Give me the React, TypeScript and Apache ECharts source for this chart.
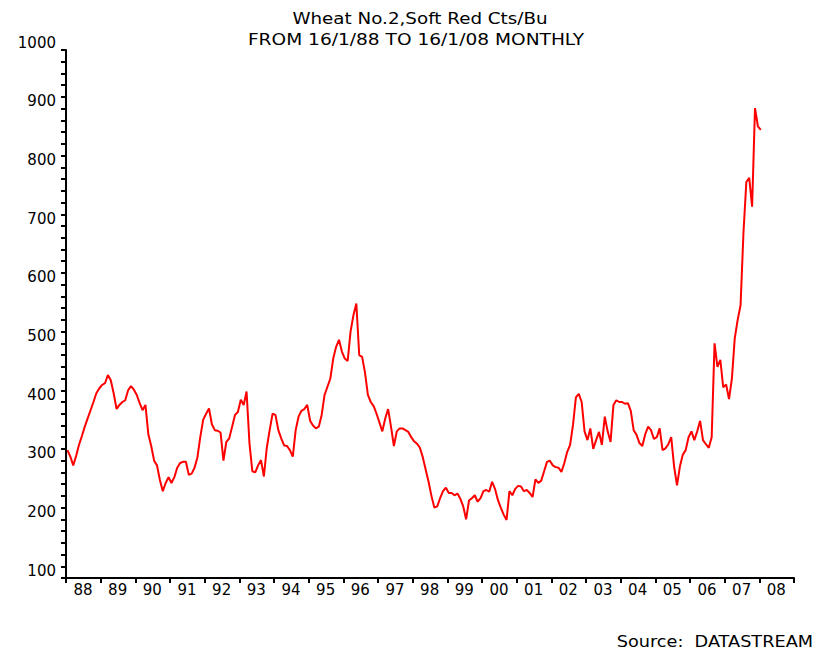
import React, { useEffect, useRef } from "react";
import * as echarts from "echarts";

const titleLine1 = "Wheat No.2,Soft Red Cts/Bu";
const titleLine2 = "FROM 16/1/88 TO 16/1/08 MONTHLY";
const sourceText = "Source:  DATASTREAM";

const startYear = 1988;
const yTicks = { min: 100, max: 1000, minor: 20, major: 100 };
const xYears = { min: 1988, max: 2009 };

// Monthly values (cents/bushel), January 1988 .. January 2008
const v1988 = [318, 307, 292, 308, 327, 342, 358, 372, 386, 400, 415, 423];
const v1989 = [429, 432, 446, 437, 415, 388, 395, 400, 403, 420, 427, 421];
const v1990 = [412, 398, 386, 395, 345, 325, 300, 292, 267, 248, 262, 272];
const v1991 = [262, 272, 288, 296, 298, 298, 276, 278, 288, 306, 341, 370];
const v1992 = [380, 389, 362, 352, 351, 348, 300, 332, 338, 358, 378, 383];
const v1993 = [404, 395, 418, 330, 282, 280, 292, 301, 273, 322, 352, 380];
const v1994 = [378, 352, 338, 326, 325, 318, 307, 352, 375, 385, 388, 395];
const v1995 = [368, 360, 355, 358, 378, 412, 426, 440, 474, 494, 506, 486];
const v1996 = [474, 470, 520, 548, 568, 480, 477, 450, 412, 400, 393, 380];
const v1997 = [365, 350, 372, 388, 358, 325, 350, 355, 355, 352, 349, 340];
const v1998 = [333, 329, 322, 306, 285, 264, 240, 220, 222, 236, 248, 254];
const v1999 = [245, 245, 241, 244, 235, 222, 200, 232, 236, 241, 230, 236];
const v2000 = [248, 250, 247, 264, 252, 233, 220, 208, 199, 248, 241, 252];
const v2001 = [257, 256, 248, 250, 245, 238, 268, 262, 266, 282, 298, 300];
const v2002 = [292, 289, 288, 281, 296, 315, 327, 361, 408, 414, 400, 350];
const v2003 = [335, 355, 320, 335, 349, 327, 375, 350, 332, 395, 403, 400];
const v2004 = [400, 397, 398, 385, 352, 344, 330, 325, 345, 358, 352, 337];
const v2005 = [340, 355, 318, 321, 328, 340, 290, 258, 290, 310, 318, 340];
const v2006 = [350, 335, 350, 368, 335, 328, 322, 340, 500, 460, 472, 425];
const v2007 = [430, 405, 440, 509, 540, 565, 688, 775, 782, 733, 901, 870];
const v2008 = [864];

const monthly = [
  ...v1988, ...v1989, ...v1990, ...v1991, ...v1992, ...v1993, ...v1994,
  ...v1995, ...v1996, ...v1997, ...v1998, ...v1999, ...v2000, ...v2001,
  ...v2002, ...v2003, ...v2004, ...v2005, ...v2006, ...v2007, ...v2008,
];

const FONT = "DejaVu Sans";

export default function App() {
  const ref = useRef<HTMLDivElement>(null);
  useEffect(() => {
    if (!ref.current) return;
    const chart = echarts.init(ref.current, null, { renderer: "svg" });
    // each monthly reading is taken on the 16th of the month
    const points = monthly.map((v, i) => [startYear + (i + 0.5) / 12, v]);
    chart.setOption({
      animation: false,
      backgroundColor: "#ffffff",
      grid: { left: 66, right: 28, top: 50, bottom: 72, containLabel: false },
      xAxis: {
        type: "value",
        min: xYears.min,
        max: xYears.max,
        interval: 1,
        splitLine: { show: false },
        axisLine: { show: true, lineStyle: { color: "#000", width: 2 } },
        axisTick: { show: true, inside: false, length: 5, lineStyle: { color: "#000", width: 2 } },
        axisLabel: {
          show: true,
          margin: 4,
          color: "#000",
          fontFamily: FONT,
          fontSize: 15,
          padding: [0, 0, 0, 34],
          showMaxLabel: true,
          formatter: (v: number) =>
            v >= xYears.max ? "" : String(Math.round(v) % 100).padStart(2, "0"),
        },
      },
      yAxis: {
        type: "value",
        min: yTicks.min,
        max: yTicks.max,
        interval: yTicks.minor,
        splitLine: { show: false },
        axisLine: { show: true, lineStyle: { color: "#000", width: 2 } },
        axisTick: { show: true, length: 5, lineStyle: { color: "#000", width: 2 } },
        axisLabel: {
          show: true,
          margin: 10,
          color: "#000",
          fontFamily: FONT,
          fontSize: 15,
          verticalAlign: "bottom",
          formatter: (v: number) => (Math.round(v) % yTicks.major === 0 ? String(v) : ""),
        },
      },
      series: [
        {
          type: "line",
          data: points,
          showSymbol: false,
          symbol: "none",
          smooth: false,
          lineStyle: { color: "#ff0000", width: 2 },
          itemStyle: { color: "#ff0000" },
        },
      ],
      graphic: [
        {
          type: "text",
          x: 420,
          y: 19,
          scaleX: 1.22,
          style: {
            text: titleLine1,
            fontFamily: FONT,
            fontSize: 15,
            fill: "#000",
            textAlign: "center",
            textVerticalAlign: "middle",
          },
        },
        {
          type: "text",
          x: 416,
          y: 40,
          scaleX: 1.24,
          style: {
            text: titleLine2,
            fontFamily: FONT,
            fontSize: 15,
            fill: "#000",
            textAlign: "center",
            textVerticalAlign: "middle",
          },
        },
        {
          type: "text",
          x: 813,
          y: 642,
          scaleX: 1.18,
          style: {
            text: sourceText,
            fontFamily: FONT,
            fontSize: 15,
            fill: "#000",
            textAlign: "right",
            textVerticalAlign: "middle",
          },
        },
      ],
    });
    return () => chart.dispose();
  }, []);
  return (
    <div
      ref={ref}
      style={{ position: "fixed", left: 0, top: 0, width: 822, height: 650 }}
    />
  );
}
